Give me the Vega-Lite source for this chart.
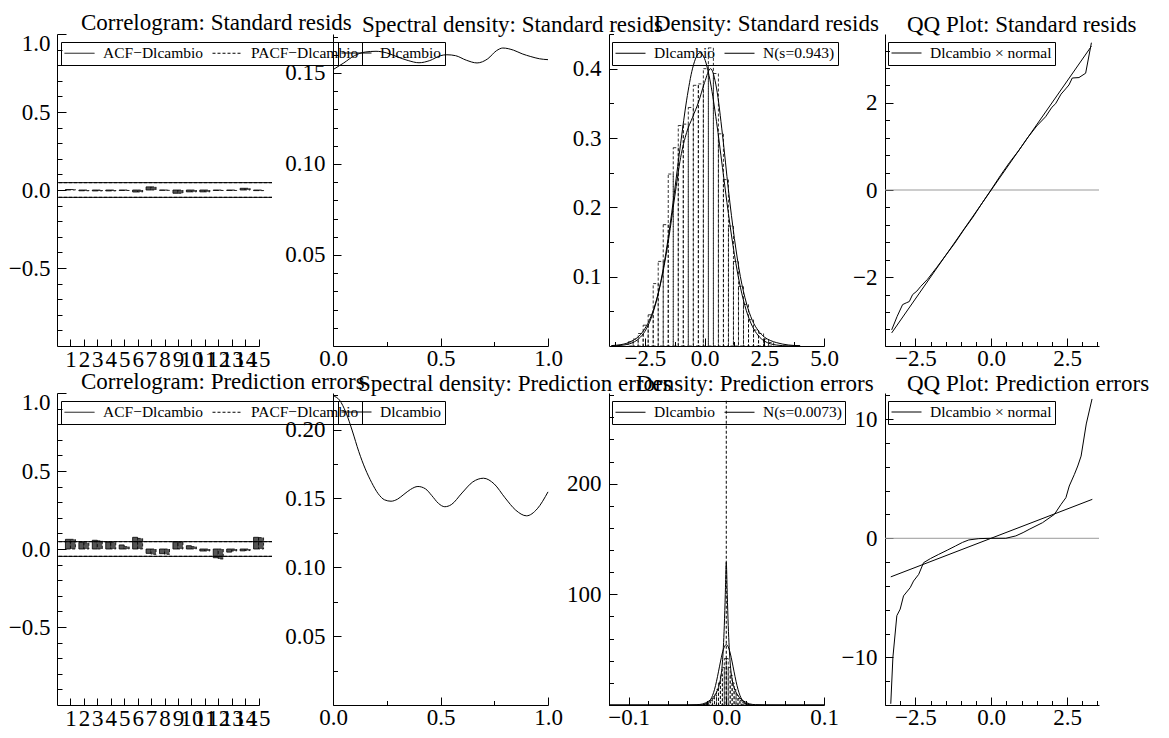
{
"$schema": "https://vega.github.io/schema/vega-lite/v6.json",
"padding": {"left": 8, "top": 11, "right": 2, "bottom": 2},
"config": {
  "font": "Liberation Serif",
  "view": {"stroke": null},
  "axis": {"labelFont": "Liberation Serif", "labelFontSize": 23, "labelColor": "black", "tickColor": "black", "domainColor": "black", "labelOverlap": false, "labelFlush": false, "labelBound": false, "grid": false, "tickWidth": 1, "domainWidth": 1},
  "axisX": {"labelPadding": 9},
  "axisY": {"labelPadding": 16},
  "title": {"font": "Liberation Serif", "fontSize": 23, "fontWeight": "normal", "color": "black", "anchor": "start", "frame": "group", "offset": -2.5, "baseline": "alphabetic"},
  "legend": {"labelFont": "Liberation Serif", "labelFontSize": 15.5, "labelColor": "black", "symbolType": "M-1,0H3", "symbolSize": 225, "symbolStrokeWidth": 1, "symbolStrokeColor": "black", "strokeColor": "black", "padding": 3, "columnPadding": 6, "labelOffset": 23, "labelLimit": 0, "direction": "horizontal", "cornerRadius": 0}
},
"datasets": {
  "acf1": [{"lag":1,"acf":0.003,"pacf":0.003},{"lag":2,"acf":-0.005,"pacf":-0.005},{"lag":3,"acf":-0.006,"pacf":-0.006},{"lag":4,"acf":-0.006,"pacf":-0.006},{"lag":5,"acf":-0.003,"pacf":-0.003},{"lag":6,"acf":-0.013,"pacf":-0.013},{"lag":7,"acf":0.02,"pacf":0.02},{"lag":8,"acf":-0.002,"pacf":-0.002},{"lag":9,"acf":-0.021,"pacf":-0.021},{"lag":10,"acf":-0.012,"pacf":-0.012},{"lag":11,"acf":-0.012,"pacf":-0.012},{"lag":12,"acf":-0.003,"pacf":-0.003},{"lag":13,"acf":-0.003,"pacf":-0.003},{"lag":14,"acf":0.011,"pacf":0.011},{"lag":15,"acf":-0.004,"pacf":-0.004}],
  "acf2": [{"lag":1,"acf":0.062,"pacf":0.062},{"lag":2,"acf":0.043,"pacf":0.04},{"lag":3,"acf":0.056,"pacf":0.052},{"lag":4,"acf":0.045,"pacf":0.043},{"lag":5,"acf":0.026,"pacf":0.015},{"lag":6,"acf":0.075,"pacf":0.068},{"lag":7,"acf":-0.028,"pacf":-0.034},{"lag":8,"acf":-0.03,"pacf":-0.034},{"lag":9,"acf":0.047,"pacf":0.045},{"lag":10,"acf":0.021,"pacf":0.015},{"lag":11,"acf":-0.013,"pacf":-0.013},{"lag":12,"acf":-0.056,"pacf":-0.064},{"lag":13,"acf":-0.02,"pacf":-0.013},{"lag":14,"acf":-0.012,"pacf":-0.01},{"lag":15,"acf":0.075,"pacf":0.073}],
  "bands": [{"b":0.047},{"b":-0.047}],
  "zero": [{"z":0}],
  "spec1": [{"f":0,"d":0.1518},{"f":0.05,"d":0.1555},{"f":0.1,"d":0.1595},{"f":0.15,"d":0.1615},{"f":0.2,"d":0.1619},{"f":0.25,"d":0.161},{"f":0.3,"d":0.1588},{"f":0.35,"d":0.1568},{"f":0.4,"d":0.1556},{"f":0.45,"d":0.1568},{"f":0.5,"d":0.1595},{"f":0.53,"d":0.16},{"f":0.57,"d":0.1595},{"f":0.62,"d":0.157},{"f":0.67,"d":0.1555},{"f":0.72,"d":0.1578},{"f":0.76,"d":0.1622},{"f":0.79,"d":0.1637},{"f":0.84,"d":0.1625},{"f":0.88,"d":0.1605},{"f":0.92,"d":0.159},{"f":0.96,"d":0.1578},{"f":1.0,"d":0.1573}],
  "spec2": [{"f":0,"d":0.2245},{"f":0.03,"d":0.2215},{"f":0.06,"d":0.2125},{"f":0.09,"d":0.199},{"f":0.12,"d":0.184},{"f":0.15,"d":0.1715},{"f":0.18,"d":0.1615},{"f":0.21,"d":0.1535},{"f":0.24,"d":0.149},{"f":0.27,"d":0.148},{"f":0.3,"d":0.1495},{"f":0.33,"d":0.153},{"f":0.36,"d":0.1565},{"f":0.395,"d":0.1587},{"f":0.43,"d":0.157},{"f":0.46,"d":0.152},{"f":0.49,"d":0.1465},{"f":0.52,"d":0.144},{"f":0.55,"d":0.1455},{"f":0.6,"d":0.154},{"f":0.65,"d":0.162},{"f":0.7,"d":0.1647},{"f":0.75,"d":0.1605},{"f":0.8,"d":0.1505},{"f":0.85,"d":0.1415},{"f":0.9,"d":0.1374},{"f":0.95,"d":0.1425},{"f":1.0,"d":0.1548}],
  "hist1": [{"b0":-3.2,"b1":-2.99,"d":0.006},{"b0":-2.99,"b1":-2.78,"d":0.01},{"b0":-2.78,"b1":-2.57,"d":0.018},{"b0":-2.57,"b1":-2.36,"d":0.03},{"b0":-2.36,"b1":-2.15,"d":0.045},{"b0":-2.15,"b1":-1.94,"d":0.09},{"b0":-1.94,"b1":-1.73,"d":0.122},{"b0":-1.73,"b1":-1.52,"d":0.175},{"b0":-1.52,"b1":-1.31,"d":0.248},{"b0":-1.31,"b1":-1.1,"d":0.286},{"b0":-1.1,"b1":-0.89,"d":0.318},{"b0":-0.89,"b1":-0.68,"d":0.32},{"b0":-0.68,"b1":-0.47,"d":0.344},{"b0":-0.47,"b1":-0.26,"d":0.376},{"b0":-0.26,"b1":-0.05,"d":0.378},{"b0":-0.05,"b1":0.16,"d":0.4},{"b0":0.16,"b1":0.37,"d":0.43},{"b0":0.37,"b1":0.58,"d":0.393},{"b0":0.58,"b1":0.79,"d":0.306},{"b0":0.79,"b1":1.0,"d":0.24},{"b0":1.0,"b1":1.21,"d":0.173},{"b0":1.21,"b1":1.42,"d":0.122},{"b0":1.42,"b1":1.63,"d":0.086},{"b0":1.63,"b1":1.84,"d":0.06},{"b0":1.84,"b1":2.05,"d":0.038},{"b0":2.05,"b1":2.26,"d":0.023},{"b0":2.26,"b1":2.47,"d":0.018},{"b0":2.47,"b1":2.68,"d":0.01},{"b0":2.68,"b1":2.89,"d":0.005}],
  "dens1": [{"x":-3.9,"d":0.0006,"s":"Dlcambio"},{"x":-3.5,"d":0.002,"s":"Dlcambio"},{"x":-3.25,"d":0.004,"s":"Dlcambio"},{"x":-3,"d":0.008,"s":"Dlcambio"},{"x":-2.75,"d":0.014,"s":"Dlcambio"},{"x":-2.5,"d":0.025,"s":"Dlcambio"},{"x":-2.25,"d":0.042,"s":"Dlcambio"},{"x":-2,"d":0.068,"s":"Dlcambio"},{"x":-1.75,"d":0.105,"s":"Dlcambio"},{"x":-1.5,"d":0.155,"s":"Dlcambio"},{"x":-1.25,"d":0.215,"s":"Dlcambio"},{"x":-1,"d":0.272,"s":"Dlcambio"},{"x":-0.75,"d":0.308,"s":"Dlcambio"},{"x":-0.5,"d":0.33,"s":"Dlcambio"},{"x":-0.25,"d":0.352,"s":"Dlcambio"},{"x":0,"d":0.38,"s":"Dlcambio"},{"x":0.25,"d":0.4,"s":"Dlcambio"},{"x":0.5,"d":0.372,"s":"Dlcambio"},{"x":0.75,"d":0.305,"s":"Dlcambio"},{"x":1,"d":0.225,"s":"Dlcambio"},{"x":1.25,"d":0.155,"s":"Dlcambio"},{"x":1.5,"d":0.1,"s":"Dlcambio"},{"x":1.75,"d":0.062,"s":"Dlcambio"},{"x":2,"d":0.037,"s":"Dlcambio"},{"x":2.25,"d":0.022,"s":"Dlcambio"},{"x":2.5,"d":0.013,"s":"Dlcambio"},{"x":2.75,"d":0.008,"s":"Dlcambio"},{"x":3,"d":0.005,"s":"Dlcambio"},{"x":3.5,"d":0.0015,"s":"Dlcambio"},{"x":4,"d":0.0004,"s":"Dlcambio"},
    {"x":-3.9,"d":0.0001,"s":"N(s=0.943)"},{"x":-3.5,"d":0.0009,"s":"N(s=0.943)"},{"x":-3,"d":0.005,"s":"N(s=0.943)"},{"x":-2.75,"d":0.0106,"s":"N(s=0.943)"},{"x":-2.5,"d":0.021,"s":"N(s=0.943)"},{"x":-2.25,"d":0.0389,"s":"N(s=0.943)"},{"x":-2,"d":0.067,"s":"N(s=0.943)"},{"x":-1.75,"d":0.1076,"s":"N(s=0.943)"},{"x":-1.5,"d":0.161,"s":"N(s=0.943)"},{"x":-1.25,"d":0.2249,"s":"N(s=0.943)"},{"x":-1,"d":0.2925,"s":"N(s=0.943)"},{"x":-0.75,"d":0.3546,"s":"N(s=0.943)"},{"x":-0.5,"d":0.4007,"s":"N(s=0.943)"},{"x":-0.19,"d":0.423,"s":"N(s=0.943)"},{"x":0,"d":0.4145,"s":"N(s=0.943)"},{"x":0.25,"d":0.3793,"s":"N(s=0.943)"},{"x":0.5,"d":0.3236,"s":"N(s=0.943)"},{"x":0.75,"d":0.2574,"s":"N(s=0.943)"},{"x":1,"d":0.1908,"s":"N(s=0.943)"},{"x":1.25,"d":0.1318,"s":"N(s=0.943)"},{"x":1.5,"d":0.0849,"s":"N(s=0.943)"},{"x":1.75,"d":0.0509,"s":"N(s=0.943)"},{"x":2,"d":0.0285,"s":"N(s=0.943)"},{"x":2.25,"d":0.0149,"s":"N(s=0.943)"},{"x":2.5,"d":0.0072,"s":"N(s=0.943)"},{"x":2.75,"d":0.0033,"s":"N(s=0.943)"},{"x":3,"d":0.0014,"s":"N(s=0.943)"},{"x":3.5,"d":0.0002,"s":"N(s=0.943)"},{"x":4,"d":0.00002,"s":"N(s=0.943)"}],
  "hist2": [{"b0":-0.024,"b1":-0.022,"d":0.5},{"b0":-0.022,"b1":-0.02,"d":1},{"b0":-0.02,"b1":-0.018,"d":1.5},{"b0":-0.018,"b1":-0.016,"d":2.5},{"b0":-0.016,"b1":-0.014,"d":4},{"b0":-0.014,"b1":-0.012,"d":6},{"b0":-0.012,"b1":-0.01,"d":9},{"b0":-0.01,"b1":-0.008,"d":14},{"b0":-0.008,"b1":-0.006,"d":20},{"b0":-0.006,"b1":-0.004,"d":27},{"b0":-0.004,"b1":-0.002,"d":34},{"b0":-0.002,"b1":0,"d":42},{"b0":0,"b1":0.002,"d":42},{"b0":0.002,"b1":0.004,"d":34},{"b0":0.004,"b1":0.006,"d":27},{"b0":0.006,"b1":0.008,"d":20},{"b0":0.008,"b1":0.01,"d":14},{"b0":0.01,"b1":0.012,"d":9},{"b0":0.012,"b1":0.014,"d":6},{"b0":0.014,"b1":0.016,"d":4},{"b0":0.016,"b1":0.018,"d":2.5},{"b0":0.018,"b1":0.02,"d":1.5},{"b0":0.02,"b1":0.022,"d":1},{"b0":0.022,"b1":0.024,"d":0.5}],
  "spike": [{"x":0,"top":275}],
  "dens2": [{"x":-0.12,"d":0,"s":"Dlcambio"},{"x":-0.06,"d":0.02,"s":"Dlcambio"},{"x":-0.04,"d":0.08,"s":"Dlcambio"},{"x":-0.03,"d":0.3,"s":"Dlcambio"},{"x":-0.024,"d":1,"s":"Dlcambio"},{"x":-0.021,"d":2,"s":"Dlcambio"},{"x":-0.018,"d":3.5,"s":"Dlcambio"},{"x":-0.015,"d":5.5,"s":"Dlcambio"},{"x":-0.012,"d":8.5,"s":"Dlcambio"},{"x":-0.01,"d":11.5,"s":"Dlcambio"},{"x":-0.008,"d":16,"s":"Dlcambio"},{"x":-0.006,"d":23,"s":"Dlcambio"},{"x":-0.005,"d":29,"s":"Dlcambio"},{"x":-0.004,"d":38,"s":"Dlcambio"},{"x":-0.003,"d":52,"s":"Dlcambio"},{"x":-0.002,"d":72,"s":"Dlcambio"},{"x":-0.001,"d":100,"s":"Dlcambio"},{"x":0,"d":129,"s":"Dlcambio"},{"x":0.001,"d":100,"s":"Dlcambio"},{"x":0.002,"d":72,"s":"Dlcambio"},{"x":0.003,"d":52,"s":"Dlcambio"},{"x":0.004,"d":38,"s":"Dlcambio"},{"x":0.005,"d":29,"s":"Dlcambio"},{"x":0.006,"d":23,"s":"Dlcambio"},{"x":0.008,"d":16,"s":"Dlcambio"},{"x":0.01,"d":11.5,"s":"Dlcambio"},{"x":0.012,"d":8.5,"s":"Dlcambio"},{"x":0.015,"d":5.5,"s":"Dlcambio"},{"x":0.018,"d":3.5,"s":"Dlcambio"},{"x":0.021,"d":2,"s":"Dlcambio"},{"x":0.024,"d":1,"s":"Dlcambio"},{"x":0.03,"d":0.3,"s":"Dlcambio"},{"x":0.04,"d":0.08,"s":"Dlcambio"},{"x":0.06,"d":0.02,"s":"Dlcambio"},{"x":0.1,"d":0,"s":"Dlcambio"},
    {"x":-0.12,"d":0,"s":"N(s=0.0073)"},{"x":-0.04,"d":0,"s":"N(s=0.0073)"},{"x":-0.03,"d":0.01,"s":"N(s=0.0073)"},{"x":-0.024,"d":0.25,"s":"N(s=0.0073)"},{"x":-0.022,"d":0.6,"s":"N(s=0.0073)"},{"x":-0.02,"d":1.28,"s":"N(s=0.0073)"},{"x":-0.018,"d":2.61,"s":"N(s=0.0073)"},{"x":-0.016,"d":4.94,"s":"N(s=0.0073)"},{"x":-0.014,"d":8.68,"s":"N(s=0.0073)"},{"x":-0.012,"d":14.1,"s":"N(s=0.0073)"},{"x":-0.01,"d":21.4,"s":"N(s=0.0073)"},{"x":-0.008,"d":30,"s":"N(s=0.0073)"},{"x":-0.006,"d":38.9,"s":"N(s=0.0073)"},{"x":-0.004,"d":47,"s":"N(s=0.0073)"},{"x":-0.002,"d":52.6,"s":"N(s=0.0073)"},{"x":0,"d":54.6,"s":"N(s=0.0073)"},{"x":0.002,"d":52.6,"s":"N(s=0.0073)"},{"x":0.004,"d":47,"s":"N(s=0.0073)"},{"x":0.006,"d":38.9,"s":"N(s=0.0073)"},{"x":0.008,"d":30,"s":"N(s=0.0073)"},{"x":0.01,"d":21.4,"s":"N(s=0.0073)"},{"x":0.012,"d":14.1,"s":"N(s=0.0073)"},{"x":0.014,"d":8.68,"s":"N(s=0.0073)"},{"x":0.016,"d":4.94,"s":"N(s=0.0073)"},{"x":0.018,"d":2.61,"s":"N(s=0.0073)"},{"x":0.02,"d":1.28,"s":"N(s=0.0073)"},{"x":0.022,"d":0.6,"s":"N(s=0.0073)"},{"x":0.024,"d":0.25,"s":"N(s=0.0073)"},{"x":0.03,"d":0.01,"s":"N(s=0.0073)"},{"x":0.04,"d":0,"s":"N(s=0.0073)"},{"x":0.1,"d":0,"s":"N(s=0.0073)"}],
  "qq1": [{"q":-3.28,"v":-3.21},{"q":-3.1,"v":-2.9},{"q":-2.92,"v":-2.63},{"q":-2.8,"v":-2.59},{"q":-2.7,"v":-2.56},{"q":-2.59,"v":-2.4},{"q":-2.45,"v":-2.32},{"q":-2.32,"v":-2.21},{"q":-2.1,"v":-2.05},{"q":-1.8,"v":-1.78},{"q":-1.5,"v":-1.5},{"q":-1.2,"v":-1.22},{"q":-0.9,"v":-0.91},{"q":-0.6,"v":-0.62},{"q":-0.3,"v":-0.3},{"q":0,"v":0.01},{"q":0.3,"v":0.33},{"q":0.6,"v":0.63},{"q":0.9,"v":0.9},{"q":1.2,"v":1.2},{"q":1.5,"v":1.47},{"q":1.79,"v":1.68},{"q":2.0,"v":1.9},{"q":2.12,"v":1.98},{"q":2.3,"v":2.2},{"q":2.45,"v":2.32},{"q":2.56,"v":2.41},{"q":2.67,"v":2.57},{"q":2.89,"v":2.58},{"q":3.11,"v":2.68},{"q":3.3,"v":3.38}],
  "qql1": [{"q":-3.28,"v":-3.28},{"q":3.3,"v":3.3}],
  "qq2": [{"q":-3.31,"v":-13.9},{"q":-3.24,"v":-10.0},{"q":-3.11,"v":-6.5},{"q":-3.0,"v":-5.95},{"q":-2.89,"v":-4.84},{"q":-2.67,"v":-4.15},{"q":-2.56,"v":-3.59},{"q":-2.39,"v":-3.03},{"q":-2.23,"v":-2.05},{"q":-2.0,"v":-1.7},{"q":-1.73,"v":-1.35},{"q":-1.45,"v":-1.0},{"q":-1.18,"v":-0.65},{"q":-0.95,"v":-0.35},{"q":-0.74,"v":-0.14},{"q":-0.41,"v":-0.03},{"q":0,"v":0},{"q":0.48,"v":0},{"q":0.81,"v":0.2},{"q":1.05,"v":0.48},{"q":1.25,"v":0.75},{"q":1.69,"v":1.31},{"q":2.08,"v":2.01},{"q":2.3,"v":2.85},{"q":2.46,"v":3.41},{"q":2.57,"v":4.39},{"q":2.74,"v":5.37},{"q":2.85,"v":6.07},{"q":2.96,"v":6.9},{"q":3.13,"v":9.6},{"q":3.32,"v":11.7}],
  "qql2": [{"q":-3.31,"v":-3.24},{"q":3.33,"v":3.27}]
},
"columns": 4,
"spacing": {"row": 47, "column": 61},
"bounds": "flush",
"resolve": {"scale": {"color": "independent", "strokeDash": "independent"}, "legend": {"color": "independent", "strokeDash": "independent"}},
"concat": [
   {"width": 215, "height": 312,
    "title": {"text": "Correlogram: Standard resids", "dx": 24},
    "resolve": {"axis": {"x": "independent", "y": "independent"}},
    "layer": [
     {"data": {"name": "acf1"}, "mark": {"type": "bar", "orient": "vertical", "width": 5, "xOffset": -2.5, "fill": "#555555", "stroke": "black", "strokeWidth": 0.8},
      "encoding": {
       "x": {"field": "lag", "type": "quantitative", "scale": {"domain": [0, 16], "padding": 0, "nice": false}, "axis": {"orient": "bottom", "title": null, "values": [1,2,3,4,5,6,7,8,9,10,11,12,13,14,15], "format": "d", "tickSize": -7, "domainDash": [202, 40]}},
       "y": {"field": "acf", "type": "quantitative", "scale": {"domain": [-1, 1], "nice": false}, "axis": {"orient": "left", "title": null, "values": [-0.5,0,0.5,1], "format": ".1f", "tickSize": -9, "labelFlush": true, "labelFlushOffset": 2}},
       "y2": {"datum": 0}
      }},
     {"data": {"name": "acf1"}, "mark": {"type": "bar", "orient": "vertical", "width": 5, "xOffset": 2.5, "fill": "#555555", "stroke": "black", "strokeWidth": 0.8, "strokeDash": [3, 2]},
      "encoding": {
       "x": {"field": "lag", "type": "quantitative", "axis": null},
       "y": {"field": "pacf", "type": "quantitative", "axis": null},
       "y2": {"datum": 0}
      }},
     {"data": {"name": "bands"}, "mark": {"type": "rule", "color": "black", "strokeWidth": 1},
      "encoding": {"y": {"field": "b", "type": "quantitative", "axis": null},
       "strokeDash": {"datum": "ACF−Dlcambio", "type": "nominal", "scale": {"domain": ["ACF−Dlcambio", "PACF−Dlcambio"], "range": [[1,0],[3,2]]}, "legend": {"title": null, "orient": "none", "legendX": 4, "legendY": 8, "direction": "horizontal"}}}},
     {"data": {"name": "bands"}, "mark": {"type": "rule", "color": "black", "strokeWidth": 1},
      "encoding": {"y": {"field": "b", "type": "quantitative", "axis": null},
       "strokeDash": {"datum": "PACF−Dlcambio", "type": "nominal"}}},
     {"data": {"name": "acf1"}, "mark": {"type": "point", "opacity": 0},
      "encoding": {"x": {"field": "lag", "type": "quantitative", "axis": null}, "y": {"field": "acf", "type": "quantitative", "axis": {"orient": "left", "title": null, "labels": false, "domain": false, "tickSize": -5, "values": [-0.9,-0.8,-0.7,-0.6,-0.4,-0.3,-0.2,-0.1,0.1,0.2,0.3,0.4,0.6,0.7,0.8,0.9]}}}}
    ]},
   {"width": 215, "height": 312,
    "title": {"text": "Spectral density: Standard resids", "dx": 29},
    "resolve": {"axis": {"x": "independent", "y": "independent"}},
    "layer": [
     {"data": {"name": "spec1"}, "mark": {"type": "line", "strokeWidth": 1, "interpolate": "monotone"},
      "encoding": {
       "x": {"field": "f", "type": "quantitative", "scale": {"domain": [0, 1], "nice": false}, "axis": {"orient": "bottom", "title": null, "values": [0, 0.5, 1], "format": ".1f", "tickSize": -8}},
       "y": {"field": "d", "type": "quantitative", "scale": {"domain": [0, 0.1714], "nice": false}, "axis": {"orient": "left", "title": null, "values": [0.05, 0.1, 0.15], "format": ".2f", "tickSize": -8}},
       "color": {"datum": "Dlcambio", "type": "nominal", "scale": {"range": ["black"]}, "legend": {"title": null, "orient": "none", "legendX": 5, "legendY": 8, "direction": "horizontal"}}
      }},
     {"data": {"name": "spec1"}, "mark": {"type": "point", "opacity": 0},
      "encoding": {
       "x": {"field": "f", "type": "quantitative", "axis": {"orient": "bottom", "title": null, "labels": false, "domain": false, "tickSize": -4.5, "values": [0.25, 0.75]}},
       "y": {"field": "d", "type": "quantitative", "axis": {"orient": "left", "title": null, "labels": false, "domain": false, "tickSize": -4.5, "values": [0.01,0.02,0.03,0.04,0.06,0.07,0.08,0.09,0.11,0.12,0.13,0.14,0.16,0.17]}}
      }}
    ]},
   {"width": 215, "height": 312,
    "title": {"text": "Density: Standard resids", "dx": 45},
    "resolve": {"axis": {"x": "independent", "y": "independent"}},
    "layer": [
     {"data": {"name": "hist1"}, "mark": {"type": "rect", "fill": "transparent", "stroke": "black", "strokeWidth": 0.8, "strokeDash": [3, 2]},
      "encoding": {
       "x": {"field": "b0", "type": "quantitative", "scale": {"domain": [-4, 5], "nice": false}, "axis": {"orient": "bottom", "title": null, "values": [-2.5, 0, 2.5, 5], "format": ".1f", "tickSize": -8}},
       "x2": {"field": "b1"},
       "y": {"field": "d", "type": "quantitative", "scale": {"domain": [0, 0.45], "nice": false}, "axis": {"orient": "left", "title": null, "values": [0.1, 0.2, 0.3, 0.4], "format": ".1f", "tickSize": -8}},
       "y2": {"datum": 0}
      }},
     {"data": {"name": "dens1"}, "mark": {"type": "line", "strokeWidth": 1, "interpolate": "monotone"},
      "encoding": {
       "x": {"field": "x", "type": "quantitative", "axis": null},
       "y": {"field": "d", "type": "quantitative", "axis": null},
       "color": {"field": "s", "type": "nominal", "scale": {"range": ["black", "black"]}, "legend": {"title": null, "orient": "none", "legendX": 3, "legendY": 8, "direction": "horizontal"}}
      }},
     {"data": {"name": "hist1"}, "mark": {"type": "point", "opacity": 0},
      "encoding": {
       "x": {"field": "b0", "type": "quantitative", "axis": {"orient": "bottom", "title": null, "labels": false, "domain": false, "tickSize": -4.5, "values": [-3.75, -1.25, 1.25, 3.75]}},
       "y": {"field": "d", "type": "quantitative", "axis": {"orient": "left", "title": null, "labels": false, "domain": false, "tickSize": -4.5, "values": [0.05, 0.15, 0.25, 0.35, 0.45]}}
      }}
    ]},
   {"width": 214, "height": 312,
    "title": {"text": "QQ Plot: Standard resids", "dx": 22},
    "resolve": {"axis": {"x": "independent", "y": "independent"}},
    "layer": [
     {"data": {"name": "zero"}, "mark": {"type": "rule", "color": "#999999", "strokeWidth": 1},
      "encoding": {"y": {"field": "z", "type": "quantitative", "axis": null}}},
     {"data": {"name": "qql1"}, "mark": {"type": "line", "color": "black", "strokeWidth": 1},
      "encoding": {"x": {"field": "q", "type": "quantitative", "axis": null}, "y": {"field": "v", "type": "quantitative", "axis": null}}},
     {"data": {"name": "qq1"}, "mark": {"type": "line", "strokeWidth": 1},
      "encoding": {
       "x": {"field": "q", "type": "quantitative", "scale": {"domain": [-3.5, 3.55], "nice": false}, "axis": {"orient": "bottom", "title": null, "values": [-2.5, 0, 2.5], "format": ".1f", "tickSize": -8}},
       "y": {"field": "v", "type": "quantitative", "scale": {"domain": [-3.58, 3.58], "nice": false}, "axis": {"orient": "left", "title": null, "values": [-2, 0, 2], "format": "d", "tickSize": -8}},
       "color": {"datum": "Dlcambio × normal", "type": "nominal", "scale": {"range": ["black"]}, "legend": {"title": null, "orient": "none", "legendX": 3, "legendY": 8, "direction": "horizontal"}}
      }},
     {"data": {"name": "qq1"}, "mark": {"type": "point", "opacity": 0},
      "encoding": {
       "x": {"field": "q", "type": "quantitative", "axis": {"orient": "bottom", "title": null, "labels": false, "domain": false, "tickSize": -4.5, "values": [-3.5,-3,-2,-1.5,-1,-0.5,0.5,1,1.5,2,3,3.5]}},
       "y": {"field": "v", "type": "quantitative", "axis": {"orient": "left", "title": null, "labels": false, "domain": false, "tickSize": -4.5, "values": [-3.2,-2.8,-2.4,-1.6,-1.2,-0.8,-0.4,0.4,0.8,1.2,1.6,2.4,2.8,3.2]}}
      }}
    ]},
   {"width": 215, "height": 312,
    "title": {"text": "Correlogram: Prediction errors", "dx": 24},
    "resolve": {"axis": {"x": "independent", "y": "independent"}},
    "layer": [
     {"data": {"name": "acf2"}, "mark": {"type": "bar", "orient": "vertical", "width": 5, "xOffset": -2.5, "fill": "#555555", "stroke": "black", "strokeWidth": 0.8},
      "encoding": {
       "x": {"field": "lag", "type": "quantitative", "scale": {"domain": [0, 16], "padding": 0, "nice": false}, "axis": {"orient": "bottom", "title": null, "values": [1,2,3,4,5,6,7,8,9,10,11,12,13,14,15], "format": "d", "tickSize": -7, "domainDash": [202, 40]}},
       "y": {"field": "acf", "type": "quantitative", "scale": {"domain": [-1, 1], "nice": false}, "axis": {"orient": "left", "title": null, "values": [-0.5,0,0.5,1], "format": ".1f", "tickSize": -9, "labelFlush": true, "labelFlushOffset": 2}},
       "y2": {"datum": 0}
      }},
     {"data": {"name": "acf2"}, "mark": {"type": "bar", "orient": "vertical", "width": 5, "xOffset": 2.5, "fill": "#555555", "stroke": "black", "strokeWidth": 0.8, "strokeDash": [3, 2]},
      "encoding": {
       "x": {"field": "lag", "type": "quantitative", "axis": null},
       "y": {"field": "pacf", "type": "quantitative", "axis": null},
       "y2": {"datum": 0}
      }},
     {"data": {"name": "bands"}, "mark": {"type": "rule", "color": "black", "strokeWidth": 1},
      "encoding": {"y": {"field": "b", "type": "quantitative", "axis": null},
       "strokeDash": {"datum": "ACF−Dlcambio", "type": "nominal", "scale": {"domain": ["ACF−Dlcambio", "PACF−Dlcambio"], "range": [[1,0],[3,2]]}, "legend": {"title": null, "orient": "none", "legendX": 4, "legendY": 8, "direction": "horizontal"}}}},
     {"data": {"name": "bands"}, "mark": {"type": "rule", "color": "black", "strokeWidth": 1},
      "encoding": {"y": {"field": "b", "type": "quantitative", "axis": null},
       "strokeDash": {"datum": "PACF−Dlcambio", "type": "nominal"}}},
     {"data": {"name": "acf2"}, "mark": {"type": "point", "opacity": 0},
      "encoding": {"x": {"field": "lag", "type": "quantitative", "axis": null}, "y": {"field": "acf", "type": "quantitative", "axis": {"orient": "left", "title": null, "labels": false, "domain": false, "tickSize": -5, "values": [-0.9,-0.8,-0.7,-0.6,-0.4,-0.3,-0.2,-0.1,0.1,0.2,0.3,0.4,0.6,0.7,0.8,0.9]}}}}
    ]},
   {"width": 215, "height": 312,
    "title": {"text": "Spectral density: Prediction errors", "dx": 25},
    "resolve": {"axis": {"x": "independent", "y": "independent"}},
    "layer": [
     {"data": {"name": "spec2"}, "mark": {"type": "line", "strokeWidth": 1, "interpolate": "monotone"},
      "encoding": {
       "x": {"field": "f", "type": "quantitative", "scale": {"domain": [0, 1], "nice": false}, "axis": {"orient": "bottom", "title": null, "values": [0, 0.5, 1], "format": ".1f", "tickSize": -8}},
       "y": {"field": "d", "type": "quantitative", "scale": {"domain": [0, 0.2266], "nice": false}, "axis": {"orient": "left", "title": null, "values": [0.05, 0.1, 0.15, 0.2], "format": ".2f", "tickSize": -8}},
       "color": {"datum": "Dlcambio", "type": "nominal", "scale": {"range": ["black"]}, "legend": {"title": null, "orient": "none", "legendX": 5, "legendY": 8, "direction": "horizontal"}}
      }},
     {"data": {"name": "spec2"}, "mark": {"type": "point", "opacity": 0},
      "encoding": {
       "x": {"field": "f", "type": "quantitative", "axis": {"orient": "bottom", "title": null, "labels": false, "domain": false, "tickSize": -4.5, "values": [0.25, 0.75]}},
       "y": {"field": "d", "type": "quantitative", "axis": {"orient": "left", "title": null, "labels": false, "domain": false, "tickSize": -4.5, "values": [0.025, 0.075, 0.125, 0.175, 0.225]}}
      }}
    ]},
   {"width": 215, "height": 312,
    "title": {"text": "Density: Prediction errors", "dx": 27},
    "resolve": {"axis": {"x": "independent", "y": "independent"}},
    "layer": [
     {"data": {"name": "hist2"}, "mark": {"type": "rect", "fill": "transparent", "stroke": "black", "strokeWidth": 0.8, "strokeDash": [3, 2]},
      "encoding": {
       "x": {"field": "b0", "type": "quantitative", "scale": {"domain": [-0.12, 0.1], "nice": false}, "axis": {"orient": "bottom", "title": null, "values": [-0.1, 0, 0.1], "format": ".1f", "tickSize": -8}},
       "x2": {"field": "b1"},
       "y": {"field": "d", "type": "quantitative", "scale": {"domain": [0, 282], "nice": false}, "axis": {"orient": "left", "title": null, "values": [100, 200], "format": "d", "tickSize": -8}},
       "y2": {"datum": 0}
      }},
     {"data": {"name": "spike"}, "mark": {"type": "rule", "color": "black", "strokeWidth": 1, "strokeDash": [3, 2]},
      "encoding": {"x": {"field": "x", "type": "quantitative", "axis": null}, "y": {"field": "top", "type": "quantitative", "axis": null}, "y2": {"datum": 0}}},
     {"data": {"name": "dens2"}, "mark": {"type": "line", "strokeWidth": 1, "interpolate": "monotone"},
      "encoding": {
       "x": {"field": "x", "type": "quantitative", "axis": null},
       "y": {"field": "d", "type": "quantitative", "axis": null},
       "color": {"field": "s", "type": "nominal", "scale": {"range": ["black", "black"]}, "legend": {"title": null, "orient": "none", "legendX": 3, "legendY": 8, "direction": "horizontal"}}
      }},
     {"data": {"name": "hist2"}, "mark": {"type": "point", "opacity": 0},
      "encoding": {
       "x": {"field": "b0", "type": "quantitative", "axis": {"orient": "bottom", "title": null, "labels": false, "domain": false, "tickSize": -4.5, "values": [-0.12,-0.08,-0.06,-0.04,-0.02,0.02,0.04,0.06,0.08]}},
       "y": {"field": "d", "type": "quantitative", "axis": {"orient": "left", "title": null, "labels": false, "domain": false, "tickSize": -4.5, "values": [20,40,60,80,120,140,160,180,220,240,260,280]}}
      }}
    ]},
   {"width": 214, "height": 312,
    "title": {"text": "QQ Plot: Prediction errors", "dx": 22},
    "resolve": {"axis": {"x": "independent", "y": "independent"}},
    "layer": [
     {"data": {"name": "zero"}, "mark": {"type": "rule", "color": "#999999", "strokeWidth": 1},
      "encoding": {"y": {"field": "z", "type": "quantitative", "axis": null}}},
     {"data": {"name": "qql2"}, "mark": {"type": "line", "color": "black", "strokeWidth": 1},
      "encoding": {"x": {"field": "q", "type": "quantitative", "axis": null}, "y": {"field": "v", "type": "quantitative", "axis": null}}},
     {"data": {"name": "qq2"}, "mark": {"type": "line", "strokeWidth": 1},
      "encoding": {
       "x": {"field": "q", "type": "quantitative", "scale": {"domain": [-3.5, 3.55], "nice": false}, "axis": {"orient": "bottom", "title": null, "values": [-2.5, 0, 2.5], "format": ".1f", "tickSize": -8}},
       "y": {"field": "v", "type": "quantitative", "scale": {"domain": [-14, 12.2], "nice": false}, "axis": {"orient": "left", "title": null, "values": [-10, 0, 10], "format": "d", "tickSize": -8}},
       "color": {"datum": "Dlcambio × normal", "type": "nominal", "scale": {"range": ["black"]}, "legend": {"title": null, "orient": "none", "legendX": 3, "legendY": 8, "direction": "horizontal"}}
      }},
     {"data": {"name": "qq2"}, "mark": {"type": "point", "opacity": 0},
      "encoding": {
       "x": {"field": "q", "type": "quantitative", "axis": {"orient": "bottom", "title": null, "labels": false, "domain": false, "tickSize": -4.5, "values": [-3.5,-3,-2,-1.5,-1,-0.5,0.5,1,1.5,2,3,3.5]}},
       "y": {"field": "v", "type": "quantitative", "axis": {"orient": "left", "title": null, "labels": false, "domain": false, "tickSize": -4.5, "values": [-12,-8,-6,-4,-2,2,4,6,8,12]}}
      }}
    ]}
]
}
